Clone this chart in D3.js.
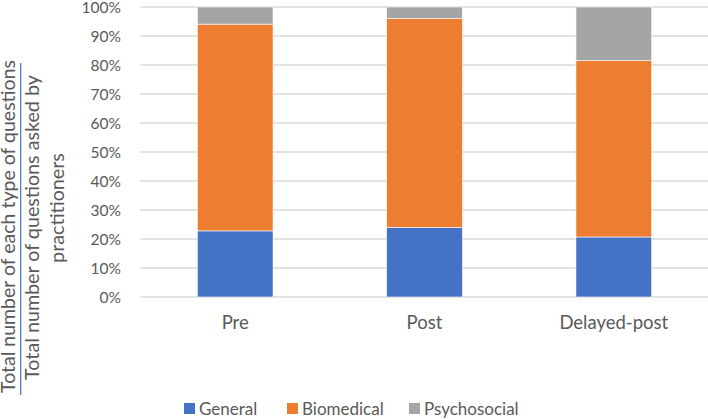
<!DOCTYPE html>
<html>
<head>
<meta charset="utf-8">
<script src="https://cdn.jsdelivr.net/npm/d3@7"></script>
<style>
  body { margin: 0; background: #fff; }
  text { font-family: Lato, "Liberation Sans", sans-serif; fill: #595959; }
</style>
</head>
<body>
<svg id="chart" width="708" height="419"></svg>
<script>
// chart data
const categories = ["Pre", "Post", "Delayed-post"]
const series = ["General", "Biomedical", "Psychosocial"]
const general = [22.8, 24.0, 20.7]
const biomedical = [71.3, 72.1, 60.8]
const psychosocial = [5.9, 3.9, 18.5]
const yTicks = [0, 10, 20, 30, 40, 50, 60, 70, 80, 90, 100]
const colors = ["#4472C4", "#ED7D31", "#A5A5A5"]

const rows = categories.map((c, i) => ({
  cat: c, General: general[i], Biomedical: biomedical[i], Psychosocial: psychosocial[i]
}))

const svg = d3.select("#chart")

const x = d3.scaleBand().domain(categories).range([140.5, 708.5]).paddingInner(0.6).paddingOuter(0.3)
const y = d3.scaleLinear().domain([0, 100]).range([297, 7])

// gridlines
svg.append("g")
  .selectAll("line")
  .data(yTicks)
  .join("line")
  .attr("x1", 140).attr("x2", 708)
  .attr("y1", d => y(d)).attr("y2", d => y(d))
  .attr("stroke", "#d9d9d9")
  .attr("stroke-width", 1.3)

// y tick labels
svg.append("g")
  .selectAll("text")
  .data(yTicks)
  .join("text")
  .attr("x", 121)
  .attr("y", d => y(d))
  .attr("dy", "0.36em")
  .attr("text-anchor", "end")
  .style("font-size", "15.5px")
  .text(d => d + "%")

// stacked bars
const stack = d3.stack().keys(series)(rows)
svg.append("g")
  .selectAll("g")
  .data(stack)
  .join("g")
  .attr("fill", (d, i) => colors[i])
  .selectAll("rect")
  .data(d => d)
  .join("rect")
  .attr("x", d => x(d.data.cat))
  .attr("width", x.bandwidth())
  .attr("y", d => y(d[1]))
  .attr("height", d => y(d[0]) - y(d[1]))
  .attr("stroke", "#fff")
  .attr("stroke-width", 0.6)

// x labels
svg.append("g")
  .selectAll("text")
  .data(categories)
  .join("text")
  .attr("x", d => x(d) + x.bandwidth() / 2)
  .attr("y", 329)
  .attr("text-anchor", "middle")
  .style("font-size", "18.5px")
  .text(d => d)

// y axis title as a fraction
function fitText(sel, len) {
  sel.style("font-size", "100px")
  const w = sel.node().getComputedTextLength()
  sel.style("font-size", (100 * len / w) + "px")
}
const title = svg.append("g")
const t1 = title.append("text")
  .attr("transform", "translate(15,226.5) rotate(-90)")
  .attr("text-anchor", "middle")
  .text("Total number of each type of questions")
fitText(t1, 333)
const t2 = title.append("text")
  .attr("transform", "translate(39,227.5) rotate(-90)")
  .attr("text-anchor", "middle")
  .text("Total number of questions asked by")
fitText(t2, 305)
const t3 = title.append("text")
  .attr("transform", "translate(64,208) rotate(-90)")
  .attr("text-anchor", "middle")
  .style("font-size", t2.style("font-size"))
  .text("practitioners")
title.append("line")
  .attr("x1", 20.7).attr("x2", 20.7)
  .attr("y1", 63).attr("y2", 395)
  .attr("stroke", "#4472C4")
  .attr("stroke-width", 1.2)

// legend
const legendX = [184, 287, 409]
const legend = svg.append("g")
  .selectAll("g")
  .data(series)
  .join("g")
  .attr("transform", (d, i) => `translate(${legendX[i]},403)`)
legend.append("rect")
  .attr("width", 11).attr("height", 11)
  .attr("fill", (d, i) => colors[i])
legend.append("text")
  .attr("x", 15)
  .attr("y", 5.5)
  .attr("dy", "0.36em")
  .style("font-size", "17px")
  .text(d => d)
</script>
</body>
</html>
